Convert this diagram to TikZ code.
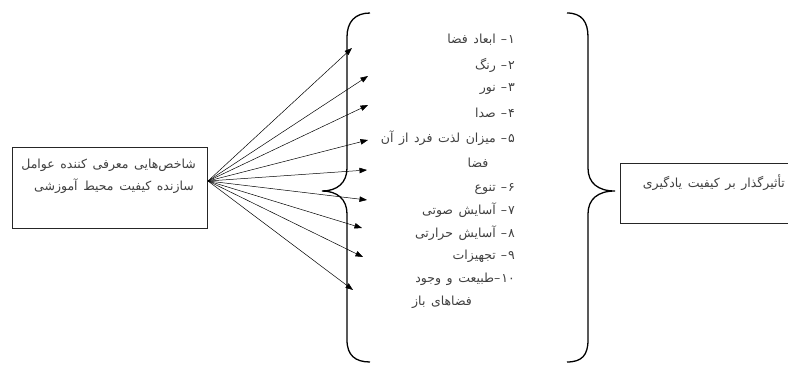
\documentclass[tikz,border=0pt]{standalone}
\usepackage{fontspec}
\newfontfamily\fafont[Script=Arabic,WordSpace=1.4]{DejaVu Sans}
\TeXXeTstate=1
\usetikzlibrary{arrows.meta}
\tikzset{
  txt/.style = {font=\fafont\fontsize{12.5}{15}\selectfont, text=black!75, inner sep=0pt},
  itm/.style = {txt, anchor=east},
  box/.style = {draw=black!85, line width=0.6pt, anchor=north west},
  ar/.style  = {-{Triangle[length=7.5pt,width=5.5pt]}, line width=0.5pt},
  brc/.style = {line width=1.3pt},
}
\newcommand\num[1]{#1\kern1pt–\hspace{5pt}}
\begin{document}
\begin{tikzpicture}[x=1pt,y=-1pt]
\useasboundingbox[fill=white] (0,0) rectangle (788,367);

% left box
\node[box, minimum width=195pt, minimum height=81pt] (lbox) at (12,147) {};
\node[txt, anchor=east] (l1) at (196,165) {\beginR شاخص‌هایی معرفی کننده عوامل\endR};
\node[txt, anchor=east] (l2) at (194,186) {\beginR سازنده کیفیت محیط آموزشی\endR};

% right box
\node[box, minimum width=190pt, minimum height=60pt] (rbox) at (620,163) {};
\node[txt, anchor=east] (r1) at (785,183) {\beginR تأثیرگذار بر کیفیت یادگیری\endR};

% list
\node[itm] (i1) at (515,40)  {\beginR\num{۱}ابعاد فضا\endR};
\node[itm] (i2) at (515,65)  {\beginR\num{۲}رنگ\endR};
\node[itm] (i3) at (515,89)  {\beginR\num{۳}نور\endR};
\node[itm] (i4) at (515,113) {\beginR\num{۴}صدا\endR};
\node[itm] (i5) at (515,138) {\beginR\num{۵}میزان لذت فرد از آن\endR};
\node[txt] (i5b) at (478,163) {\beginR فضا\endR};
\node[itm] (i6) at (515,189) {\beginR\num{۶}تنوع\endR};
\node[itm] (i7) at (515,210) {\beginR\num{۷}آسایش صوتی\endR};
\node[itm] (i8) at (515,233) {\beginR\num{۸}آسایش حرارتی\endR};
\node[itm] (i9) at (515,256) {\beginR\num{۹}تجهیزات\endR};
\node[itm] (i10) at (515,279) {\beginR ۱۰\kern1pt–طبیعت و وجود\endR};
\node[txt] (i10b) at (442,302) {\beginR فضاهای باز\endR};

% braces
\draw[brc] (370,13) .. controls (355,13) and (347,22) .. (347,37) -- (347,168)
  .. controls (347,183) and (337,191) .. (322,191)
  .. controls (337,191) and (347,199) .. (347,214) -- (347,340)
  .. controls (347,355) and (355,362) .. (370,362);
\draw[brc] (567,13) .. controls (582,13) and (588,22) .. (588,37) -- (588,168)
  .. controls (588,183) and (598,191) .. (615,191)
  .. controls (598,191) and (588,199) .. (588,214) -- (588,340)
  .. controls (588,355) and (582,362) .. (567,362);

% arrows
\coordinate (o) at (208,181);
\foreach \i/\x/\y in {1/352/48, 2/368/76, 3/368/105, 4/368/140, 5/367/170,
                      6/367/200, 7/362/228, 8/363/257, 9/353/290}
  {\coordinate (t\i) at (\x,\y);
   \draw[ar] (o) -- (t\i);}
\end{tikzpicture}
\end{document}
